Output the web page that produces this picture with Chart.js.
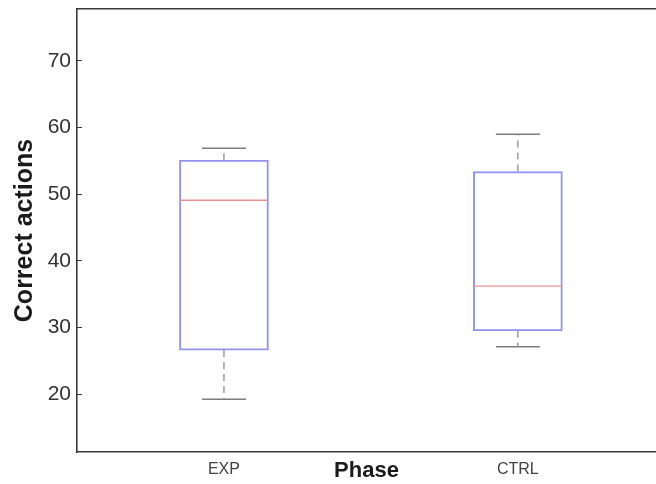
<!DOCTYPE html>
<html>
<head>
<meta charset="utf-8">
<script src="https://cdn.jsdelivr.net/npm/chart.js@4/dist/chart.umd.min.js"></script>
<style>
  html, body { margin: 0; padding: 0; background: #fff; }
  canvas { display: block; }
</style>
</head>
<body>
<canvas id="chart" width="656" height="484"></canvas>
<script>
// Box-plot summary per phase
const phases = ['EXP', 'CTRL'];
const whiskerLow = [19.2, 27.1];
const quartile1 = [26.6, 29.5];
const medians = [49.1, 36.2];
const quartile3 = [55.1, 53.4];
const whiskerHigh = [56.9, 59.0];
const yTickValues = [20, 30, 40, 50, 60, 70];

const positions = phases.map((_, i) => i + 1);

const BOX_COLOR = '#9393ef';
const MEDIAN_COLOR = '#ef9090';
const WHISKER_COLOR = '#8c8c8c';
const CAP_COLOR = '#7c7c7c';
const AXIS_COLOR = '#3a3a3a';
const FONT = '"Liberation Sans", Arial, Helvetica, sans-serif';

// Fix a scale's thickness and drop the overflow padding Chart.js reserves for labels
function fixSize(prop, size) {
  return s => {
    s[prop] = size;
    s.paddingTop = s.paddingBottom = s.paddingLeft = s.paddingRight = 0;
  };
}

const datasets = [];

// Boxes: floating bars from Q1 to Q3
datasets.push({
  type: 'bar',
  data: positions.map((x, i) => ({ x, y: [quartile1[i], quartile3[i]] })),
  backgroundColor: 'rgba(0,0,0,0)',
  borderColor: BOX_COLOR,
  borderWidth: 1.3,
  borderSkipped: false,
  barThickness: 89,
  order: 1
});

// Medians
datasets.push({
  type: 'line',
  showLine: false,
  data: positions.map((x, i) => ({ x, y: medians[i] })),
  pointStyle: 'line',
  pointRadius: 44,
  pointBorderColor: MEDIAN_COLOR,
  pointBorderWidth: 1.4,
  order: 0
});

// Dashed whiskers
positions.forEach((x, i) => {
  [[quartile3[i], whiskerHigh[i]], [quartile1[i], whiskerLow[i]]].forEach(([a, b]) => {
    datasets.push({
      type: 'line',
      data: [{ x, y: a }, { x, y: b }],
      borderColor: WHISKER_COLOR,
      borderWidth: 1.3,
      borderDash: [7, 5],
      pointRadius: 0,
      order: 2
    });
  });
});

// Whisker caps
datasets.push({
  type: 'line',
  showLine: false,
  data: positions.flatMap((x, i) => [{ x, y: whiskerLow[i] }, { x, y: whiskerHigh[i] }]),
  pointStyle: 'line',
  pointRadius: 22,
  pointBorderColor: CAP_COLOR,
  pointBorderWidth: 1.5,
  order: 2
});

new Chart(document.getElementById('chart'), {
  type: 'bar',
  data: { datasets },
  options: {
    responsive: false,
    animation: false,
    layout: { padding: 0, autoPadding: false },
    plugins: { legend: { display: false }, tooltip: { enabled: false } },
    scales: {
      x: {
        type: 'linear',
        position: 'bottom',
        min: 0.5,
        max: 2.47,
        offset: false,
        grid: { display: false, offset: false },
        border: { display: true, color: AXIS_COLOR, width: 1.6 },
        afterBuildTicks: s => { s.ticks = positions.map(v => ({ value: v })); },
        afterFit: fixSize('height', 32),
        ticks: {
          autoSkip: false,
          maxRotation: 0,
          padding: 0,
          color: '#444',
          font: { family: FONT, size: 16 },
          callback: v => phases[v - 1]
        },
        title: {
          display: true,
          text: 'Phase',
          color: '#1a1a1a',
          padding: 0,
          font: { family: FONT, size: 22, weight: 'bold' }
        }
      },
      xTop: {
        type: 'linear',
        position: 'top',
        grid: { display: false },
        ticks: { display: false },
        border: { display: true, color: AXIS_COLOR, width: 1.6 },
        afterFit: fixSize('height', 9)
      },
      y: {
        type: 'linear',
        position: 'left',
        min: 11.3,
        max: 77.8,
        grid: {
          display: true,
          drawOnChartArea: false,
          drawTicks: true,
          tickLength: -5,
          tickColor: AXIS_COLOR,
          tickWidth: 1
        },
        border: { display: true, color: AXIS_COLOR, width: 1.6 },
        afterBuildTicks: s => { s.ticks = yTickValues.map(v => ({ value: v })); },
        afterFit: fixSize('width', 77),
        ticks: {
          padding: 11,
          color: '#333',
          font: { family: FONT, size: 21 }
        },
        title: {
          display: true,
          text: 'Correct actions',
          color: '#1a1a1a',
          padding: { top: 10, bottom: 0 },
          font: { family: FONT, size: 25, weight: 'bold' }
        }
      }
    }
  }
});
</script>
</body>
</html>
